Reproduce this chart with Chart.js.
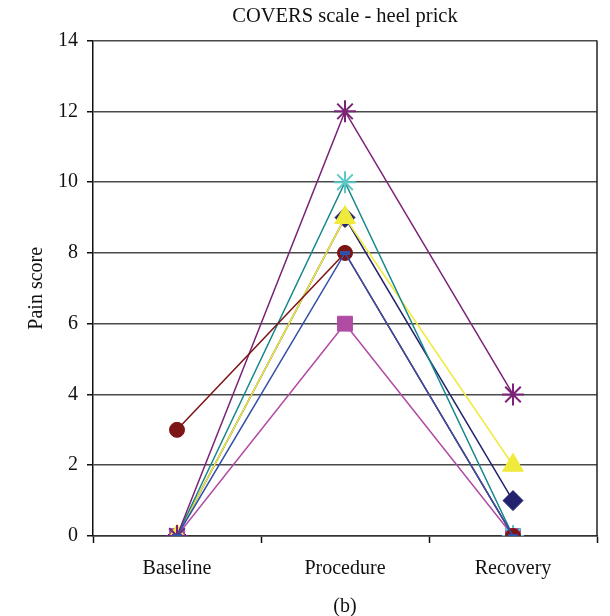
<!DOCTYPE html>
<html>
<head>
<meta charset="utf-8">
<script src="https://cdn.jsdelivr.net/npm/chart.js@4/dist/chart.umd.min.js"></script>
<style>
    html, body { margin: 0; padding: 0; background: #fff; }
</style>
</head>
<body>
<canvas id="coversChart" width="610" height="616"></canvas>
<script>
// 数据
const categories = ['Baseline', 'Procedure', 'Recovery'];
const bluePlus = [0, 8, 0];
const maroonCircle = [3, 8, 0];
const purpleStar = [0, 12, 4];
const cyanStar = [0, 10, 0];
const yellowTriangle = [0, 9, 2];
const magentaSquare = [0, 6, 0];
const navyDiamond = [0, 9, 1];
const yTicks = [0, 2, 4, 6, 8, 10, 12, 14];

const serif = '"Liberation Serif", "DejaVu Serif", serif';
Chart.defaults.font.family = serif;
Chart.defaults.font.size = 20;
Chart.defaults.color = '#111';

// 右侧边框
const rightBorder = {
    id: 'rightBorder',
    afterDraw(chart) {
        const a = chart.chartArea;
        const ctx = chart.ctx;
        ctx.save();
        ctx.strokeStyle = '#222';
        ctx.lineWidth = 1.5;
        ctx.beginPath();
        ctx.moveTo(a.right, a.top);
        ctx.lineTo(a.right, a.bottom);
        ctx.stroke();
        ctx.restore();
    }
};

function series(data, line, marker, style, radius, border) {
    return {
        data: data,
        borderColor: line,
        borderWidth: 1.5,
        backgroundColor: marker,
        pointBackgroundColor: marker,
        pointBorderColor: marker,
        pointBorderWidth: border,
        pointStyle: style,
        pointRadius: radius,
        tension: 0
    };
}

new Chart(document.getElementById('coversChart').getContext('2d'), {
    type: 'line',
    data: {
        labels: categories,
        datasets: [
            series(bluePlus, '#3350a8', '#3350a8', 'line', 5, 4),
            series(maroonCircle, '#7d1416', '#7d1416', 'circle', 7.5, 1),
            series(purpleStar, '#7b2377', '#7b2377', 'star', 11, 2),
            series(cyanStar, '#17878a', '#5cc8c8', 'star', 11, 2),
            series(yellowTriangle, '#f0ea3c', '#f0ea3c', 'triangle', 12, 1),
            series(magentaSquare, '#b04ca4', '#b04ca4', 'rect', 10.5, 1),
            series(navyDiamond, '#22226e', '#22226e', 'rectRot', 10, 1)
        ]
    },
    options: {
        responsive: false,
        animation: false,
        layout: { padding: { left: 25, right: 11, top: 0, bottom: -3 } },
        plugins: {
            legend: { display: false },
            tooltip: { enabled: false },
            title: {
                display: true,
                fullSize: false,
                text: 'COVERS scale - heel prick',
                color: '#111',
                font: { size: 20.5, weight: 'normal' },
                padding: { top: 4, bottom: 12 }
            }
        },
        scales: {
            x: {
                offset: true,
                grid: {
                    offset: true,
                    drawOnChartArea: false,
                    drawTicks: true,
                    tickLength: 7,
                    tickColor: '#111',
                    tickWidth: 1.5
                },
                border: { color: '#333', width: 1.5 },
                ticks: { padding: 14, color: '#111' },
                title: {
                    display: true,
                    text: '(b)',
                    color: '#111',
                    padding: { top: 0, bottom: 0 }
                }
            },
            y: {
                min: 0,
                max: 14,
                afterBuildTicks(axis) {
                    axis.ticks = yTicks.map(v => ({ value: v }));
                },
                grid: {
                    color: '#4a4a4a',
                    lineWidth: 1.5,
                    tickLength: 6,
                    tickColor: '#111',
                    tickWidth: 1.5
                },
                border: { color: '#111', width: 1.5 },
                ticks: { padding: 9, color: '#111' },
                title: {
                    display: true,
                    text: 'Pain score',
                    color: '#111',
                    padding: { top: 0, bottom: 0 }
                }
            }
        }
    },
    plugins: [rightBorder]
});
</script>
</body>
</html>
